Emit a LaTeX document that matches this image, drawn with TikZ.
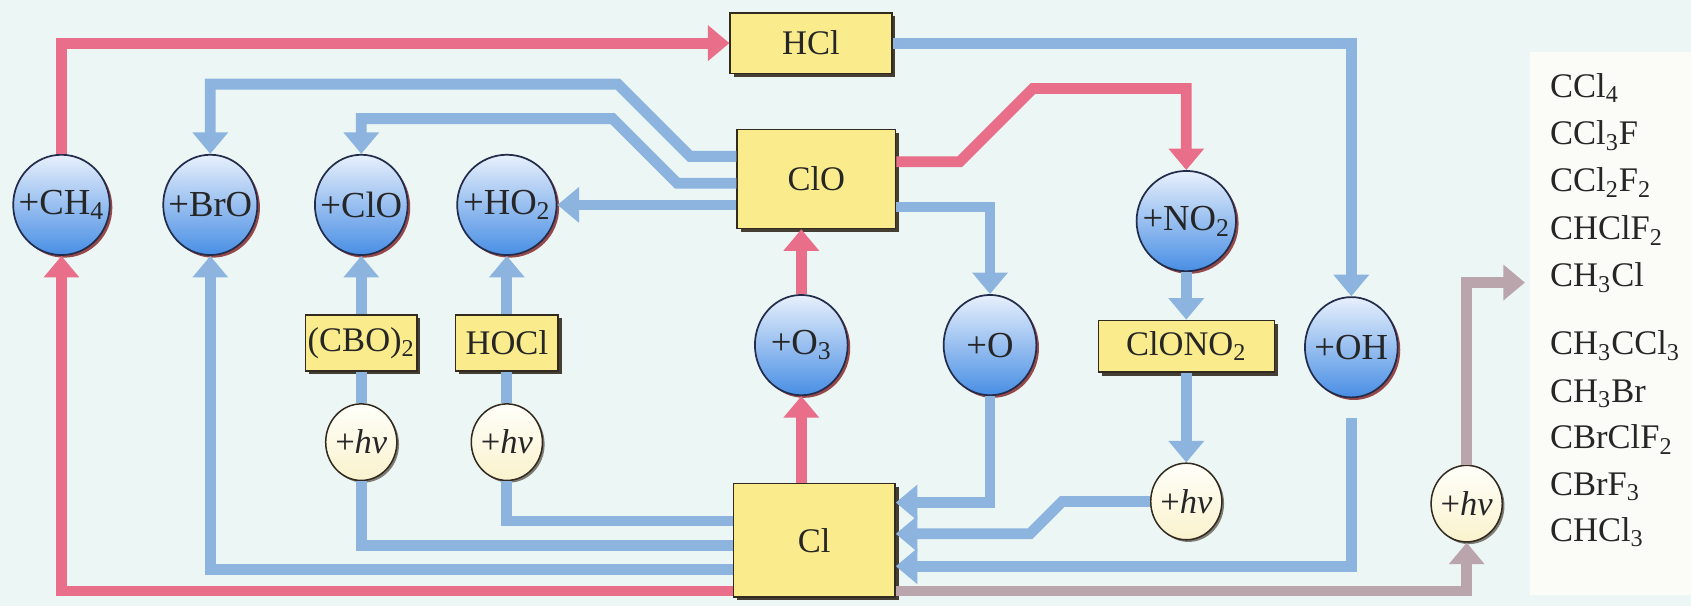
\documentclass[tikz,border=0pt]{standalone}
\usepackage{fontspec}
\setmainfont{Liberation Serif}
\usetikzlibrary{arrows.meta,shapes.geometric,shadows}
\definecolor{bgcol}{RGB}{236,246,245}
\definecolor{panelcol}{RGB}{251,252,248}
\definecolor{redcol}{RGB}{232,110,138}
\definecolor{bluecol}{RGB}{140,180,222}
\definecolor{mauvecol}{RGB}{186,165,172}
\definecolor{boxcol}{RGB}{250,236,140}
\definecolor{edgecol}{RGB}{50,42,30}
\definecolor{balltop}{RGB}{232,240,252}
\definecolor{ballmid}{RGB}{165,200,242}
\definecolor{ballbot}{RGB}{72,142,228}
\definecolor{balledge}{RGB}{35,45,75}
\definecolor{hvtop}{RGB}{255,255,250}
\definecolor{hvbot}{RGB}{250,242,205}

\begin{document}
\begin{tikzpicture}[x=0.5pt, y=-0.5pt,
    every node/.style={font=\fontsize{16}{19}\selectfont, text=black!85},
    box/.style={rectangle, draw=edgecol, line width=0.6pt, fill=boxcol, inner sep=1pt,
      drop shadow={shadow xshift=1.6pt, shadow yshift=-1.6pt, fill=edgecol, opacity=0.9}},
    ball/.style={ellipse, draw=balledge, line width=0.8pt, minimum width=43pt, minimum height=46.5pt,
      inner xsep=-4pt, inner ysep=0pt,
      top color=balltop, middle color=ballmid, bottom color=ballbot, font=\fontsize{17}{20}\selectfont,
      drop shadow={shadow xshift=1.2pt, shadow yshift=-1.2pt, fill=black!55!red, opacity=0.7}},
    hv/.style={ellipse, draw=edgecol, line width=0.7pt, minimum width=33pt, minimum height=35.5pt,
      inner xsep=-1.5pt, inner ysep=0pt,
      top color=hvtop, bottom color=hvbot,
      drop shadow={shadow xshift=1pt, shadow yshift=-1pt, fill=edgecol, opacity=0.6}},
    chem/.style={anchor=base west, inner sep=0pt},
    link/.style={line width=5pt},
    tipped/.style={-{Triangle[width=16pt,length=10pt]}},
    redarrow/.style={link, draw=redcol, tipped},
    bluearrow/.style={link, draw=bluecol, tipped},
    blueline/.style={link, draw=bluecol},
    mauvearrow/.style={link, draw=mauvecol, tipped}]
  \useasboundingbox (0,0) rectangle (1568,562);
  \fill[bgcol] (0,0) rectangle (1568,562);
  \fill[panelcol] (1419,48) rectangle (1568,552);

  \node[box, minimum width=75pt, minimum height=28pt] (hcl) at (752,40) {HCl};
  \node[box, minimum width=73.5pt, minimum height=46pt] (clo) at (757,166) {ClO};
  \node[box, minimum width=75pt, minimum height=52.5pt] (cl) at (755,501) {Cl};
  \node[box, minimum width=49pt, minimum height=26pt] (cbo) at (335,318) {(CBO)\textsubscript{2}};
  \node[box, minimum width=47.5pt, minimum height=26pt] (hocl) at (470,318) {HOCl};
  \node[box, minimum width=81.5pt, minimum height=24pt] (clono) at (1100,321) {ClONO\textsubscript{2}};

  \node[ball] (ch4) at (57,190) {+CH\textsubscript{4}};
  \node[ball] (bro) at (195,190) {+BrO};
  \node[ball] (clob) at (335,190) {+ClO};
  \node[ball] (ho2) at (470,190) {+HO\textsubscript{2}};
  \node[ball] (no2) at (1100,205) {+NO\textsubscript{2}};
  \node[ball] (o3) at (743,320) {+O\textsubscript{3}};
  \node[ball] (o) at (918,320) {+O};
  \node[ball] (oh) at (1253,322) {+OH};

  \node[hv] (hv1) at (335,410) {+\textit{hv}};
  \node[hv] (hv2) at (470,410) {+\textit{hv}};
  \node[hv] (hv3) at (1100,465) {+\textit{hv}};
  \node[hv] (hv4) at (1360,467) {+\textit{hv}};

  \foreach \y/\chem [count=\i] in {79/CCl\textsubscript{4}, 123/CCl\textsubscript{3}F,
      167/CCl\textsubscript{2}F\textsubscript{2}, 211/CHClF\textsubscript{2}, 255/CH\textsubscript{3}Cl,
      318/CH\textsubscript{3}CCl\textsubscript{3}, 362/CH\textsubscript{3}Br, 405/CBrClF\textsubscript{2},
      448/CBrF\textsubscript{3}, 491/CHCl\textsubscript{3}}
    \node[chem] (cfc\i) at (1437,\y+11) {\chem};
  \coordinate (cfc) at (1414,262);

  \draw[redarrow] (ch4.north) |- (hcl.west);
  \draw[redarrow] (cl.west |- 0,548) -| (ch4.south);
  \draw[redarrow] (cl.north -| o3.south) -- (o3.south);
  \draw[redarrow] (o3.north) -- (o3.north |- clo.south);
  \draw[redarrow] (clo.east |- 0,150) -- (890,150) -- (958,82) -| (no2.north);

  \draw[bluearrow] (hcl.east) -| (oh.north);
  \draw[bluearrow] (clo.west |- 0,145) -- (640,145) -- (573,78) -| (bro.north);
  \draw[bluearrow] (clo.west |- 0,170) -- (628,170) -- (568,110) -| (clob.north);
  \draw[bluearrow] (clo.west |- ho2.east) -- (ho2.east);
  \draw[bluearrow] (clo.east |- 0,192) -| (o.north);
  \draw[bluearrow] (o.south) |- (cl.east |- 0,466);
  \draw[bluearrow] (no2.south) -- (clono.north);
  \draw[bluearrow] (clono.south) -- (hv3.north);
  \draw[bluearrow] (hv3.west) -- (985,465) -- (955,495) -- (cl.east |- 0,495);
  \draw[bluearrow] ([yshift=-9pt]oh.south) |- (cl.east |- 0,525);

  \draw[blueline] (cl.west |- 0,506) -| (hv1.south);
  \draw[blueline] (hv1.north) -- (cbo.south);
  \draw[bluearrow] (cbo.north) -- (clob.south);
  \draw[blueline] (cl.west |- 0,483) -| (hv2.south);
  \draw[blueline] (hv2.north) -- (hocl.south);
  \draw[bluearrow] (hocl.north) -- (ho2.south);
  \draw[bluearrow] (cl.west |- 0,528) -| (bro.south);

  \draw[mauvearrow] (cl.east |- 0,548) -| (hv4.south);
  \draw[mauvearrow] (hv4.north) |- (cfc);
\end{tikzpicture}
\end{document}
